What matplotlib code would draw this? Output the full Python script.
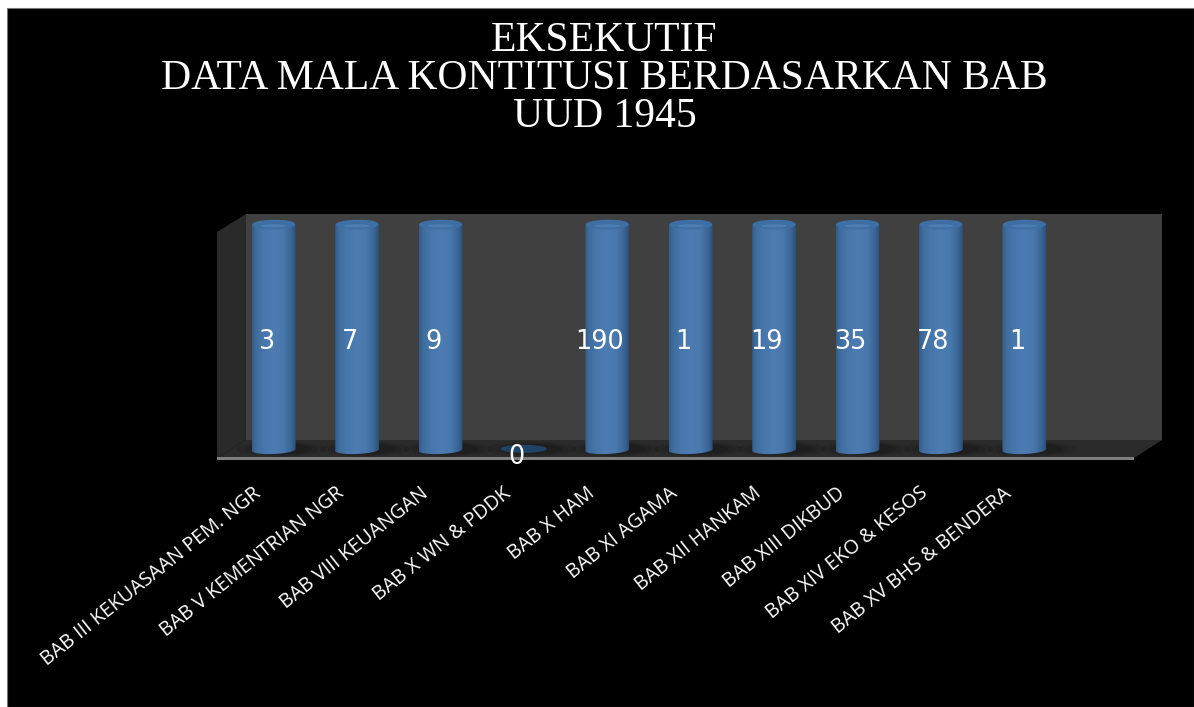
import numpy as np
import matplotlib
matplotlib.use("Agg")
import matplotlib.pyplot as plt
from matplotlib.patches import Polygon, Rectangle, PathPatch, Ellipse
from matplotlib.path import Path
from matplotlib.transforms import ScaledTranslation

# data
categories = ["BAB III KEKUASAAN PEM. NGR", "BAB V KEMENTRIAN NGR", "BAB VIII KEUANGAN",
              "BAB X WN & PDDK", "BAB X HAM", "BAB XI AGAMA", "BAB XII HANKAM",
              "BAB XIII DIKBUD", "BAB XIV EKO & KESOS", "BAB XV BHS & BENDERA"]
values = [3, 7, 9, 0, 190, 1, 19, 35, 78, 1]
# 100% stacked chart: every non empty bar fills the whole height
bar_pct = [100, 100, 100, 0, 100, 100, 100, 100, 100, 100]
title_lines = ["EKSEKUTIF", "DATA MALA KONTITUSI BERDASARKAN BAB", "UUD 1945"]

W, H = 1194, 707
fig = plt.figure(figsize=(W / 100, H / 100), dpi=100, facecolor="white")

# fondo y paredes, en pixeles de la imagen
bg = fig.add_axes([0, 0, 1, 1], zorder=0)
bg.set_xlim(0, W)
bg.set_ylim(H, 0)
bg.axis("off")
bg.add_patch(Rectangle((7, 8), W - 7, H - 8, fc="black", ec="#777777", lw=0.8))
bg.add_patch(Polygon([(246, 214), (1162, 214), (1162, 440), (246, 440)], fc="#404040", ec="none"))
bg.add_patch(Polygon([(217, 232), (246, 214), (246, 440), (217, 458)], fc="#2a2a2a", ec="none"))
floor = Polygon([(217, 458), (246, 440), (1162, 440), (1134, 458)], fc="#2b2b2b", ec="none")
bg.add_patch(floor)

# axes alineado con las barras
left, right = 232.0, 1066.0
top, bottom = 225.0, 450.0
ax = fig.add_axes([left / W, 1 - bottom / H, (right - left) / W, (bottom - top) / H], zorder=1)
ax.patch.set_alpha(0)
for s in ax.spines.values():
    s.set_visible(False)

x = np.arange(len(categories))
bars = ax.bar(x, bar_pct, width=0.525, color="#4a7ab0", zorder=2)

px_y = 100 / (bottom - top)
grad = np.array([0.0, 0.08, 0.25, 0.5, 0.72, 0.9, 1.0])
cols = np.array([[50, 92, 138], [62, 108, 156], [70, 118, 170], [76, 124, 178],
                 [72, 120, 172], [58, 100, 148], [42, 80, 122]]) / 255
ramp_x = np.linspace(0, 1, 120)
ramp = np.stack([np.interp(ramp_x, grad, cols[:, c]) for c in range(3)], axis=1)[None, :, :]


def arc(cx, y0, hw, e, tilt, t):
    return np.column_stack([cx + hw * np.cos(t), y0 + e * np.sin(t) + tilt * np.cos(t)])


for b, pct in zip(bars, bar_pct):
    cx = b.get_x() + b.get_width() / 2
    hw = b.get_width() / 2
    b.set_visible(False)
    # sombra sobre el piso
    px = cx * 83.4 + 273.5
    for k, a in zip([1.7, 1.4, 1.15], [0.08, 0.1, 0.12]):
        sh = Ellipse((px + 8, 449), 44 * k * 1.2, 9 * k, fc="black", ec="none", alpha=a)
        bg.add_patch(sh)
        sh.set_clip_path(floor)
    if pct == 0:
        ax.add_patch(Ellipse((cx, 0.5), 2 * hw * 1.05, 3.6, fc="#1f4468", ec="none", zorder=3, clip_on=False))
        continue
    tt = np.linspace(np.pi, 2 * np.pi, 40)
    low = arc(cx, 0, hw, 4 * px_y, 0.9 * px_y, tt)
    up = arc(cx, pct, hw, 5 * px_y, 0.9 * px_y, np.linspace(0, np.pi, 40))
    verts = np.vstack([low, up, low[:1]])
    clip = PathPatch(Path(verts), transform=ax.transData, fc="none", ec="none")
    ax.add_patch(clip)
    im = ax.imshow(ramp, extent=[cx - hw, cx + hw, -10, pct + 10], aspect="auto", zorder=3)
    im.set_clip_path(clip)
    im.set_clip_box(fig.bbox)
    cap = Ellipse((cx, pct + 0.2), 2 * hw * 0.98, 9.5 * px_y, angle=0, fc="#3d6fa4", ec="none", zorder=4, clip_on=False)
    ax.add_patch(cap)
    rim = Ellipse((cx, pct - 0.4), 2 * hw * 0.6, 3 * px_y, fc="#6496ca", ec="none", alpha=0.4, zorder=4.5, clip_on=False)
    ax.add_patch(rim)

bg.add_patch(Rectangle((217, 457), 917, 2.5, fc="#7f7f7f", ec="none"))

ax.set_xlim(-0.5, len(categories) - 0.5)
ax.set_ylim(0, 100)
ax.set_yticks([])
ax.set_xticks(x, categories, rotation=38.5, ha="right", va="center", rotation_mode="anchor",
              family="Open Sans", fontsize=14.2, color="white")
ax.tick_params(axis="x", length=0, pad=0)
shift = ScaledTranslation(-15 / 100, -41 / 100, fig.dpi_scale_trans)
for lab in ax.get_xticklabels():
    lab.set_transform(lab.get_transform() + shift)

# etiquetas de valores
for xi, v, pct in zip(x, values, bar_pct):
    yy = pct / 2
    dy = -3.2 if pct else -4.8
    ax.annotate(str(v), (xi, yy), xytext=(-5.3, dy), textcoords="offset points", ha="center", va="center",
                family="DejaVu Sans", fontsize=18.4, color="white", zorder=6, annotation_clip=False)

for line, yp in zip(title_lines, [41, 79, 117]):
    fig.text(604.5 / W, 1 - yp / H, line, ha="center", va="center", family="Liberation Serif",
             fontsize=29.95, color="white")

plt.savefig("out.png", dpi=100, facecolor=fig.get_facecolor())
